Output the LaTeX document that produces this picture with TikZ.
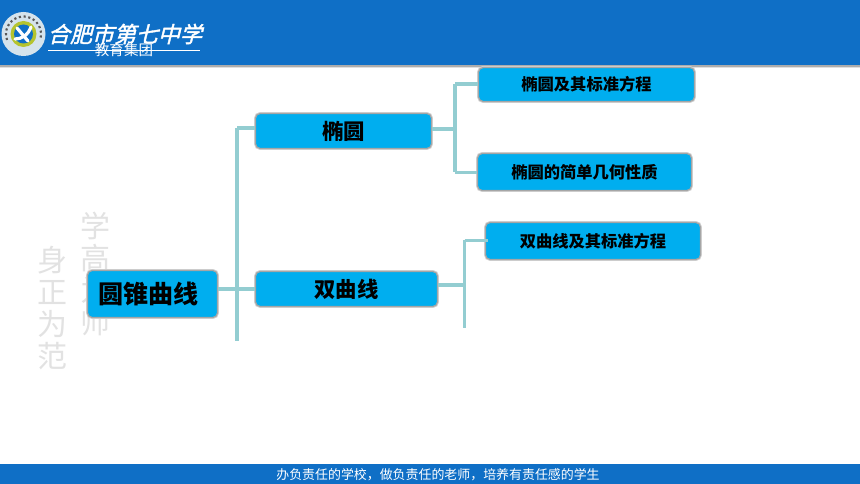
\documentclass[tikz,border=0pt]{standalone}
\usepackage{fontspec}
\setmainfont{Noto Sans CJK SC}
\newfontfamily\cjkt[FakeSlant=0.25,FakeBold=1.8]{Noto Sans CJK SC}
\usepackage{tikz}
\definecolor{barblue}{HTML}{0F6FC6}
\definecolor{boxblue}{HTML}{00AEEF}
\definecolor{linkteal}{HTML}{93CDD1}
\definecolor{wmgray}{HTML}{E2E2E2}
\definecolor{logopale}{HTML}{D5E3EC}
\definecolor{logoolive}{HTML}{B5C42E}
\tikzset{
  px/.style={x=0.75pt,y=-0.75pt},
  mapbox/.style={rectangle,rounded corners=3.5pt,fill=boxblue,draw=gray!70,line width=0.9pt,
    preaction={draw=gray!35,line width=2.2pt},inner sep=0pt,text=black,font=\bfseries},
  link/.style={draw=linkteal,line width=2.4pt},
  watermark/.style={text=wmgray,align=center,inner sep=0pt,font=\fontsize{22.5}{24}\selectfont},
}
\begin{document}
\begin{tikzpicture}[px]
\useasboundingbox (0,0) rectangle (860,484);
\fill[white] (0,0) rectangle (860,484);
% header and footer bands
\fill[gray!65] (0,65) rectangle (860,67);
\fill[gray!25] (0,67) rectangle (860,68);
\fill[barblue] (0,0) rectangle (860,65);
\fill[barblue] (0,464) rectangle (860,484);
\node[text=white,font=\fontsize{9.7}{11}\selectfont,inner sep=0pt] (footer) at (438,474.5) {办负责任的学校，做负责任的老师，培养有责任感的学生};
% logo
\fill[logopale] (23.5,34) circle (22);
\draw[black!65,line width=1.6pt,dotted] (23.5,34) ++(160:17.5) arc (160:380:17.5);
\fill[logoolive] (23.5,34) circle (13);
\fill[barblue] (23.5,34) circle (9.5);
\draw[white,line width=2.4pt,line cap=round] (17,28) -- (28,41);
\draw[white,line width=2.4pt,line cap=round] (31,27) .. controls (28,35) and (22,39) .. (15,39);
% title
\node[text=white,font=\fontsize{16.5}{18}\selectfont\cjkt,inner sep=0pt] (title) at (125,34) {合肥市第七中学};
\draw[white,line width=0.6pt] (48,50.5) -- (200,50.5);
\node[text=white,font=\fontsize{10.9}{12}\selectfont,inner sep=0pt] (group) at (124,50) {教育集团};
% watermark
\node[watermark] (wmb) at (95,274) {学\\高\\为\\师};
\node[watermark] (wma) at (52,308) {身\\正\\为\\范};
% connector junctions
\coordinate (ja) at (237,128);
\coordinate (jroot) at (237,289);
\coordinate (jend) at (237,341);
\coordinate (jb) at (455,129);
\coordinate (jb1) at (455,84);
\coordinate (jb2) at (455,172.5);
\coordinate (jc) at (464.5,285);
\coordinate (jc1) at (464.5,240.5);
\coordinate (jc2) at (464.5,328);
\coordinate (tipc) at (488,240.5);
% connectors sit under the boxes
\draw[link] (ja) -- (jend);
\draw[link] (jb1) -- (jb2);
\draw[link] (jc1) -- (jc2);
% boxes
\node[mapbox,minimum width=130*0.75pt,minimum height=47*0.75pt,font=\fontsize{18.75}{20}\selectfont\bfseries] (root) at (152.5,294) {\kern-6pt 圆锥曲线};
\node[mapbox,minimum width=176*0.75pt,minimum height=35*0.75pt,font=\fontsize{16}{18}\selectfont\bfseries] (ty) at (343.5,131) {椭圆};
\node[mapbox,minimum width=182*0.75pt,minimum height=35*0.75pt,font=\fontsize{16}{18}\selectfont\bfseries] (sq) at (346.5,289) {双曲线};
\node[mapbox,minimum width=216*0.75pt,minimum height=34*0.75pt,font=\fontsize{12.2}{14}\selectfont\bfseries] (l1) at (586.5,84.5) {椭圆及其标准方程};
\node[mapbox,minimum width=214*0.75pt,minimum height=37*0.75pt,font=\fontsize{12.2}{14}\selectfont\bfseries] (l2) at (584.5,172) {椭圆的简单几何性质};
\node[mapbox,minimum width=215*0.75pt,minimum height=37*0.75pt,font=\fontsize{12.2}{14}\selectfont\bfseries] (l3) at (593,241) {双曲线及其标准方程};
% branches
\draw[link] (root.east |- jroot) -- (sq.west |- jroot);
\draw[link] (ja) -- (ty.west |- ja);
\draw[link] (ty.east |- jb) -- (jb);
\draw[link] (jb1) -- (l1.west |- jb1);
\draw[link] (jb2) -- (l2.west |- jb2);
\draw[link] (sq.east |- jc) -- (jc);
\draw[link] (jc1) -- (tipc);
\end{tikzpicture}
\end{document}
